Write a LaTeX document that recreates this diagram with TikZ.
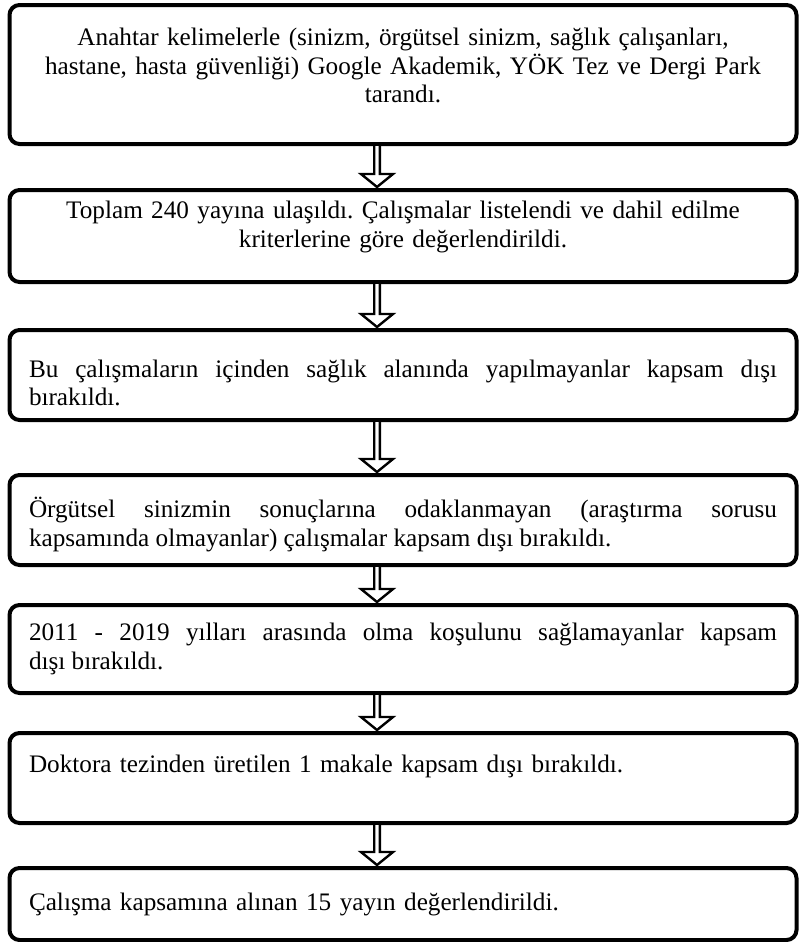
\documentclass[tikz,border=0pt]{standalone}
\usepackage{fontspec}
\setmainfont{Liberation Serif}
\usetikzlibrary{positioning, calc}
\newcommand{\padtop}[1]{\vrule width 0pt height #1 depth 0pt\relax}
\newcommand{\padbottom}[1]{\vrule width 0pt height 0pt depth #1\relax}
\tolerance=10000
\hyphenpenalty=10000
\frenchspacing

\begin{document}
\begin{tikzpicture}[
    node distance=20pt,
    flowbox/.style={rectangle, draw=black, line width=2pt, rounded corners=5pt, outer sep=0pt, minimum width=393.5pt, text width=374pt, inner ysep=4pt, font=\fontsize{12.6pt}{14.3pt}\selectfont},
    blockarrow/.style={draw=black, fill=white, line width=1.2pt, line join=miter,
        to path={let \p1=($(\tikztostart)+(-13pt,0)$), \p2=(\tikztotarget) in
            (\x1-1.4pt,\y1-1pt) -- (\x1-1.4pt,\y2+8pt) -- (\x1-8pt,\y2+8pt) -- (\x1,\y2+1.5pt)
            -- (\x1+8pt,\y2+8pt) -- (\x1+1.4pt,\y2+8pt) -- (\x1+1.4pt,\y1-1pt)}}
]
\path[use as bounding box, fill=white] (0,0) rectangle (399pt,-471pt);

\node[flowbox, align=center, minimum height=69.5pt] (search) at (201.5pt,-37.25pt) {Anahtar kelimelerle (sinizm, örgütsel sinizm, sağlık çalışanları,\\ hastane, hasta güvenliği) Google Akademik, YÖK Tez ve Dergi Park\\ tarandı.\padbottom{9pt}};

\node[flowbox, align=center, minimum height=46pt, below=23pt of search] (found) {Toplam 240 yayına ulaşıldı. Çalışmalar listelendi ve dahil edilme\\ kriterlerine göre değerlendirildi.\padbottom{11.5pt}};

\node[flowbox, align=justify, minimum height=45pt, below=24pt of found] (field) {\padtop{16.5pt}Bu çalışmaların içinden sağlık alanında yapılmayanlar kapsam dışı\linebreak bırakıldı.};

\node[flowbox, align=justify, minimum height=45pt, below=27.5pt of field] (topic) {\padtop{15pt}Örgütsel sinizmin sonuçlarına odaklanmayan (araştırma sorusu\linebreak kapsamında olmayanlar) çalışmalar kapsam dışı bırakıldı.};

\node[flowbox, align=justify, minimum height=44pt, below=20pt of topic] (years) {2011 - 2019 yılları arasında olma koşulunu sağlamayanlar kapsam\linebreak dışı bırakıldı.};

\node[flowbox, align=left, minimum height=45pt, below=20pt of years] (thesis) {Doktora tezinden üretilen 1 makale kapsam dışı bırakıldı.\padbottom{14.2pt}};

\node[flowbox, align=left, minimum height=36pt, below=22.5pt of thesis] (final) {Çalışma kapsamına alınan 15 yayın değerlendirildi.};

\draw[blockarrow] (search.south) to (found.north);
\draw[blockarrow] (found.south) to (field.north);
\draw[blockarrow] (field.south) to (topic.north);
\draw[blockarrow] (topic.south) to (years.north);
\draw[blockarrow] (years.south) to (thesis.north);
\draw[blockarrow] (thesis.south) to (final.north);
\end{tikzpicture}
\end{document}
